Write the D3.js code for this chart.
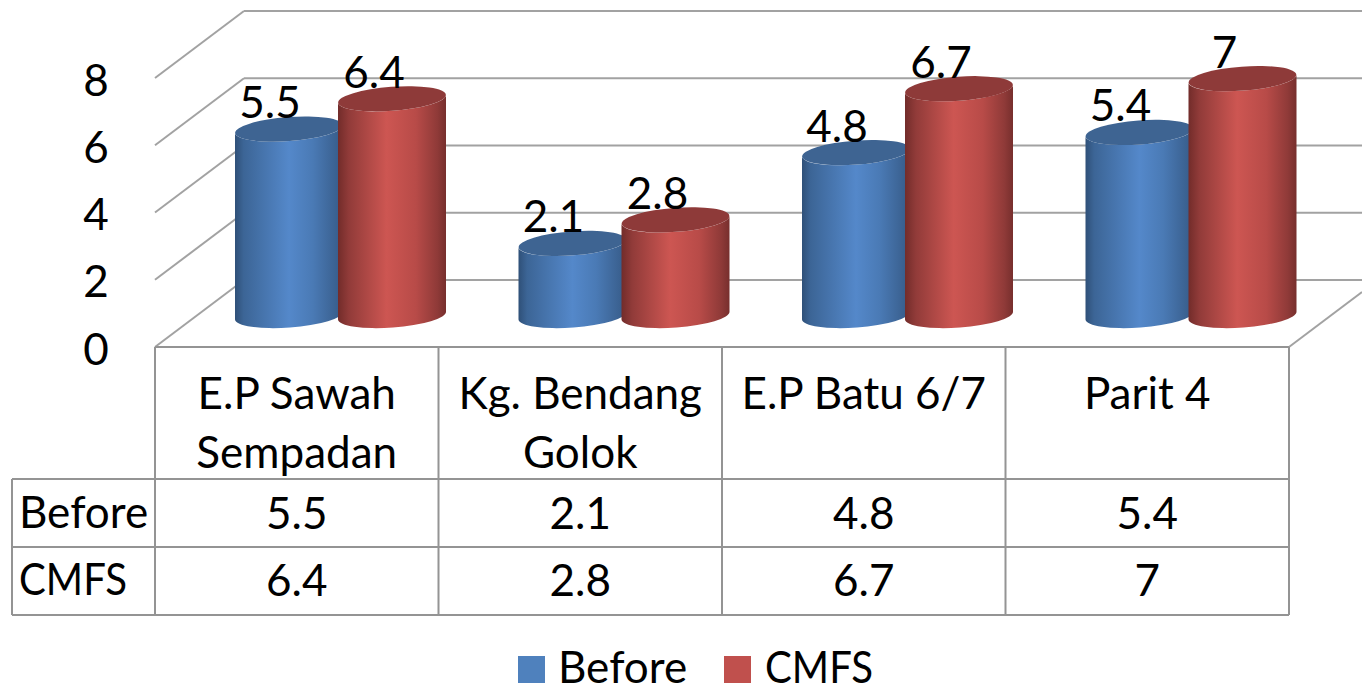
<!DOCTYPE html>
<html><head><meta charset="utf-8">
<script src="https://cdn.jsdelivr.net/npm/d3@7"></script>
<style>html,body{margin:0;padding:0;background:#fff;overflow:hidden}svg{display:block}text{font-family:Lato,"Open Sans",sans-serif;fill:#000}</style>
</head><body><div id="chart"></div>
<script>
const categories = [["E.P Sawah","Sempadan"],["Kg. Bendang","Golok"],["E.P Batu 6/7"],["Parit 4"]];
const before = [5.5,2.1,4.8,5.4];
const cmfs = [6.4,2.8,6.7,7];
const beforeLabels = ["5.5","2.1","4.8","5.4"];
const cmfsLabels = ["6.4","2.8","6.7","7"];
const yTicks = [0,2,4,6,8];
const seriesNames = ["Before","CMFS"];

const W=1362,H=685,FS=44;
const svg=d3.select("#chart").append("svg").attr("width",W).attr("height",H);
const x=d3.scaleBand().domain(d3.range(categories.length)).range([155,1289]);
const y=d3.scaleLinear().domain([0,8]).range([347,78]);
const depthX=89, depthY=-67, gridC="#a2a2a2", tableC="#949494";

const defs=svg.append("defs");
function grad(id,stops){
  const g=defs.append("linearGradient").attr("id",id);
  stops.forEach(s=>g.append("stop").attr("offset",s[0]).attr("stop-color",s[1]));
}
grad("gb",[[0,"#2f5078"],[.08,"#3c6596"],[.5,"#5488ca"],[.72,"#4a7ab5"],[.93,"#3b6292"],[1,"#345a87"]]);
grad("gr",[[0,"#722c2a"],[.1,"#913b39"],[.45,"#cd5652"],[.72,"#b84b48"],[.92,"#8f3a38"],[1,"#772f2d"]]);

// walls and gridlines
const grid=svg.append("g").attr("fill","none").attr("stroke",gridC).attr("stroke-width",2);
yTicks.forEach(t=>{
  grid.append("line").attr("x1",155).attr("y1",y(t)).attr("x2",155+depthX).attr("y2",y(t)+depthY);
  grid.append("line").attr("x1",155+depthX).attr("y1",y(t)+depthY).attr("x2",W).attr("y2",y(t)+depthY);
});
grid.append("line").attr("x1",1289).attr("y1",347).attr("x2",W).attr("y2",347+depthY*(W-1289)/depthX);

// cylinders
const rx=54, ry=12, tilt=-4.2, rise=4;
function cyl(cx,v,fill,top,name){
  const yBase=y(0)-31.5, yTop=y(v)-33;
  const g=svg.append("g").attr("class","bar "+name);
  const l=cx-rx, r=cx+rx;
  g.append("path").attr("fill",`url(#${fill})`)
   .attr("d",`M${l},${yTop+rise}L${l},${yBase+rise}A${rx},${ry} ${tilt} 0 0 ${r},${yBase-rise}L${r},${yTop-rise}A${rx},${ry} ${tilt} 0 1 ${l},${yTop+rise}Z`);
  g.append("ellipse").attr("cx",0).attr("cy",0).attr("rx",rx).attr("ry",ry).attr("fill",top)
   .attr("transform",`translate(${cx},${yTop}) rotate(${tilt})`);
}
categories.forEach((c,i)=>{
  const bx=x(i)+80;
  cyl(bx+rx,before[i],"gb","#3e6492","before");
  cyl(bx+103+rx,cmfs[i],"gr","#8e3a39","cmfs");
});
categories.forEach((c,i)=>{
  const bx=x(i)+80;
  svg.append("text").attr("x",bx+35).attr("y",y(before[i])-44).attr("text-anchor","middle").attr("font-size",FS).text(beforeLabels[i]);
  svg.append("text").attr("x",bx+139).attr("y",y(cmfs[i])-44).attr("text-anchor","middle").attr("font-size",FS).text(cmfsLabels[i]);
});

// y tick labels
yTicks.forEach(t=>svg.append("text").attr("x",96).attr("y",y(t)+17.5).attr("text-anchor","middle").attr("font-size",FS).text(t));

// data table
const rows=[347,479,547,615], left=12;
const tb=svg.append("g").attr("stroke",tableC).attr("stroke-width",2).attr("fill","none");
tb.append("line").attr("x1",155).attr("x2",1289).attr("y1",rows[0]).attr("y2",rows[0]);
[1,2,3].forEach(k=>tb.append("line").attr("x1",left).attr("x2",1289).attr("y1",rows[k]).attr("y2",rows[k]));
tb.append("line").attr("x1",left).attr("x2",left).attr("y1",rows[1]).attr("y2",rows[3]);
d3.range(categories.length+1).forEach(i=>{
  const X=i<categories.length?x(i):x.range()[1];
  tb.append("line").attr("x1",X).attr("x2",X).attr("y1",rows[0]).attr("y2",rows[3]);
});
categories.forEach((c,i)=>{
  const cx=x(i)+x.bandwidth()/2;
  c.forEach((ln,j)=>svg.append("text").attr("x",cx).attr("y",409+j*59).attr("text-anchor","middle").attr("font-size",FS).text(ln));
  svg.append("text").attr("x",cx).attr("y",529).attr("text-anchor","middle").attr("font-size",FS).text(beforeLabels[i]);
  svg.append("text").attr("x",cx).attr("y",596).attr("text-anchor","middle").attr("font-size",FS).text(cmfsLabels[i]);
});
svg.append("text").attr("x",19).attr("y",528).attr("font-size",FS).text(seriesNames[0]);
svg.append("text").attr("x",19).attr("y",595).attr("font-size",FS).attr("textLength",108).attr("lengthAdjust","spacingAndGlyphs").text(seriesNames[1]);

// legend
[[518,558,"#4f81bd"],[724,765,"#c0504d"]].forEach((p,i)=>{
  svg.append("rect").attr("x",p[0]).attr("y",656).attr("width",27).attr("height",27).attr("fill",p[2]);
  const t=svg.append("text").attr("x",p[1]).attr("y",683).attr("font-size",FS).text(seriesNames[i]);
  if(i===1) t.attr("textLength",108).attr("lengthAdjust","spacingAndGlyphs");
});
</script></body></html>
